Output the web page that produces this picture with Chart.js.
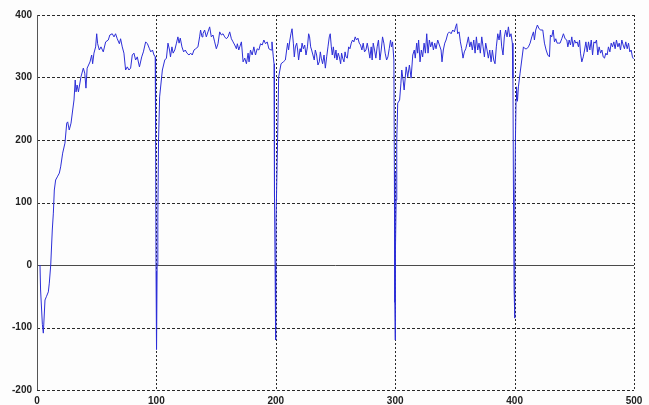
<!DOCTYPE html>
<html>
<head>
<meta charset="utf-8">
<script src="https://cdn.jsdelivr.net/npm/chart.js@4/dist/chart.umd.min.js"></script>
<style>
  html, body { margin: 0; padding: 0; background: #fdfdfd; }
  canvas { display: block; }
</style>
</head>
<body>
<canvas id="c" width="649" height="405"></canvas>
<script>
// Response trace, one array of [time, value] pairs per cycle.
const cycle1 = [
  [2.5,0],[3,-40],[4.5,-95],[5.3,-109],[6.7,-56],[8,-50],[9.5,-43],[10.3,-29],[11.5,0],[12.8,56],
  [13.7,83],[14.5,120],[15.6,136],[17,141],[18.7,147],[19.8,157],[21.5,179],[23.4,195],[24.9,227],[25.7,229],
  [27,216],[28.5,227],[29.9,248],[31,264],[32,296],[32.7,277],[33.6,288],[34.7,277],[36.8,301],[38.8,315],
  [40,307],[41,283],[42,315],[44.4,325],[45.8,336],[46.6,322],[47.7,339],[49.1,349],[50,370],[50.8,354],
  [52.2,344],[53.6,349],[55.5,341],[57.5,357],[59.7,360],[61,368],[63,370],[64.5,365],[65.8,370],[67.2,362],
  [69,354],[70,362],[71.4,349],[72.8,339],[74.2,312],[75.6,317],[77,312],[78.4,315],[79.8,336],[81.2,339],
  [82.6,328],[84,333],[85.8,317],[87.7,333],[89.1,341],[91,357],[92.5,354],[94.2,346],[95.3,341],[96.7,344],
  [98,336],[99,333],[99.3,221],[99.7,-10],[100,-90],[100.2,-135],[100.6,0],[101.2,77],[101.8,200]
];
const cycle2 = [
  [102.7,269],[105,312],[107,328],[108.4,331],[109.7,355],[111,344],[111.8,333],[113,349],[114,339],[115.4,344],
  [116.8,355],[118,365],[119,355],[120,363],[121.4,349],[122.8,341],[124.2,344],[125.6,339],[127.3,336],[128.7,339],
  [130,336],[131.5,344],[132.9,346],[134.8,349],[136.2,365],[137,376],[138.2,365],[139,370],[140.4,376],[141.8,365],
  [143.2,373],[144.6,381],[146,365],[147.4,368],[148.8,357],[150.2,346],[151.6,354],[153,373],[154.4,368],[155.8,370],
  [157.2,365],[158.6,362],[160,365],[161.4,373],[162.8,362],[164.2,357],[165.6,352],[167,346],[167.8,354],[169,344],
  [169.8,349],[171.2,357],[172.6,325],[174,331],[175.4,322],[176.8,339],[177.6,325],[178.8,344],[180.2,336],[181.6,349],
  [183,336],[184.4,346],[185.8,344],[187.2,354],[188.6,352],[190,360],[191.4,354],[192.8,357],[194.2,346],[196,344],
  [196.8,357],[197.9,333],[198.5,322],[198.9,109],[199.4,-1],[199.7,-98],[200,-120],[200.2,72],[201.6,211]
];
const cycle3 = [
  [202.4,301],[204.4,322],[206.3,325],[208,328],[209.1,344],[209.9,355],[210.7,344],[211.8,360],[212.7,370],[213.6,378],
  [214.7,355],[215.5,333],[216.4,349],[217.5,355],[218.3,344],[219.1,328],[220.3,346],[221.1,341],[222,355],[223.1,346],
  [224.2,352],[225.3,336],[226.5,349],[227.5,370],[228.3,365],[229.2,349],[230,344],[231.1,336],[232.2,328],[233.1,344],
  [234.2,336],[235.3,320],[236.4,325],[237.3,341],[238.1,331],[239.2,322],[240.4,336],[241.5,315],[242.6,333],[243.7,349],
  [244.8,365],[245.6,370],[246.5,349],[247.3,336],[248.2,349],[249.3,331],[250.4,344],[251.2,328],[252.3,339],[253.2,333],
  [254.3,322],[255.1,339],[256,331],[257.1,325],[258,341],[258.8,333],[259.9,331],[261,349],[262.1,346],[263.2,355],
  [264.3,360],[265.4,357],[266.5,365],[267.6,360],[268.8,363],[269.9,355],[271,352],[272.1,344],[273.2,355],[274.3,341],
  [275.5,344],[276.6,355],[277.7,344],[278.8,331],[279.9,349],[280.7,328],[281.6,355],[282.7,344],[283.8,331],[284.9,349],
  [286,360],[287.2,328],[288.3,344],[289.4,365],[290.5,355],[291.6,339],[292.8,328],[293.9,333],[295,346],[296.1,360],
  [296.9,349],[297.8,357],[298.9,328],[299.3,150],[299.7,-60],[300,-120],[300.2,24],[300.8,104],[301.3,200]
];
const cycle4 = [
  [302.1,259],[303.7,264],[304.8,291],[305.5,312],[306.6,296],[307.5,280],[309.2,317],[310.5,301],[311.9,320],[313.3,299],
  [314.7,336],[316,344],[316.8,331],[318,355],[318.8,339],[319.6,360],[320.8,325],[321.9,344],[323,333],[324.2,355],
  [325.3,339],[326.4,370],[327.5,339],[328.6,360],[329.7,349],[330.9,357],[332,344],[333.1,355],[334.2,346],[335.6,360],
  [337,352],[338.4,344],[339.2,325],[340.3,344],[341.5,355],[342.6,360],[344,370],[345.4,373],[346.8,370],[348.2,376],
  [349.6,373],[350.6,381],[351.5,386],[352.3,370],[353.5,373],[354.6,357],[355.7,346],[356.8,331],[357.9,341],[359.1,346],
  [360.2,355],[361.3,365],[362.4,349],[363.5,357],[364.6,344],[365.8,360],[366.9,339],[368,365],[369.1,344],[370.2,355],
  [371.3,339],[372.5,365],[373.6,349],[374.7,333],[375.8,355],[376.9,344],[378,331],[379.2,344],[380.3,325],[381.4,344],
  [382.5,328],[383.6,322],[384.7,349],[385.9,370],[387,360],[388.1,376],[389.2,349],[390.3,336],[391.4,365],[392.5,376],
  [393.7,365],[394.8,381],[395.9,365],[397,370],[398.1,355],[398.6,300],[399,136],[399.6,-40],[400,-85],[400.3,104],
  [400.7,200],[401.2,264]
];
const cycle5 = [
  [401.6,285],[402.4,262],[403.2,285],[404.6,307],[406,328],[407.4,349],[408.8,346],[410.2,346],[411.6,349],[413,355],
  [414.4,365],[415.8,373],[416.6,360],[417.7,376],[419.1,384],[420.5,378],[421.9,376],[423.6,376],[425,355],[426.4,344],
  [427.8,336],[429.2,333],[430,368],[431.1,365],[432.3,376],[433.4,357],[434.5,362],[435.6,355],[436.7,355],[438.1,355],
  [439.5,362],[440.9,370],[442.3,362],[443.7,360],[444.6,349],[445.7,360],[446.8,352],[447.9,365],[449,349],[450.2,360],
  [451.3,355],[452.4,357],[453.5,349],[454.4,360],[455.2,339],[456.3,325],[457.5,333],[458.6,344],[459.7,357],[460.8,341],
  [461.9,357],[463,344],[464.2,360],[465.3,336],[466.4,357],[467.5,355],[468.6,360],[469.7,336],[470.8,349],[472,339],
  [473.1,344],[474.2,333],[475.3,331],[476.4,339],[477.5,336],[478.6,349],[479.8,341],[480.9,355],[482,349],[483.1,357],
  [484.2,346],[485.3,360],[486.5,349],[487.6,355],[488.7,344],[489.8,360],[490.9,352],[492,346],[493.1,357],[494.3,346],
  [495.4,355],[496.5,341],[497.6,344],[498.7,333],[499.5,330]
];

// Axis ticks
const xTicks = [0, 100, 200, 300, 400, 500];
const yTicks = [-200, -100, 0, 100, 200, 300, 400];

const trace = [cycle1, cycle2, cycle3, cycle4, cycle5]
  .flat()
  .map(([x, y]) => ({ x, y }));

// Dashed grid, solid zero line and solid left axis, drawn from the scales.
const gridPlugin = {
  id: 'dashGrid',
  beforeDraw(chart) {
    const ctx = chart.ctx;
    ctx.save();
    ctx.fillStyle = '#fdfdfd';
    ctx.fillRect(0, 0, chart.width, chart.height);
    ctx.restore();
  },
  beforeDatasetsDraw(chart) {
    const { ctx, chartArea: a, scales: { x, y } } = chart;
    ctx.save();
    ctx.lineWidth = 1;
    // horizontal lines
    yTicks.forEach(v => {
      const py = Math.round(y.getPixelForValue(v)) + 0.5;
      ctx.beginPath();
      if (v === 0) {
        ctx.setLineDash([]);
        ctx.strokeStyle = '#4a4a4a';
      } else {
        ctx.setLineDash([3, 2]);
        ctx.strokeStyle = '#2a2a2a';
      }
      ctx.moveTo(a.left, py);
      ctx.lineTo(a.right, py);
      ctx.stroke();
    });
    // vertical lines
    xTicks.forEach(v => {
      const px = Math.round(x.getPixelForValue(v)) + 0.5;
      ctx.beginPath();
      if (v === 0) {
        ctx.setLineDash([]);
        ctx.strokeStyle = '#555555';
      } else {
        ctx.setLineDash([2, 2]);
        ctx.strokeStyle = '#2a2a2a';
      }
      ctx.moveTo(px, a.top);
      ctx.lineTo(px, a.bottom);
      ctx.stroke();
    });
    ctx.restore();
  }
};

const tickFont = { family: "'Liberation Sans', Arial, sans-serif", size: 10, weight: 'bold' };

new Chart(document.getElementById('c'), {
  type: 'line',
  data: {
    datasets: [{
      data: trace,
      borderColor: '#2d2fd8',
      borderWidth: 1,
      pointRadius: 0,
      tension: 0,
      fill: false
    }]
  },
  options: {
    responsive: false,
    devicePixelRatio: 1,
    animation: false,
    parsing: true,
    layout: { padding: { left: 0, right: 15, top: 15, bottom: 0 } },
    plugins: { legend: { display: false }, tooltip: { enabled: false } },
    scales: {
      x: {
        type: 'linear',
        min: 0,
        max: 500,
        afterBuildTicks: s => { s.ticks = xTicks.map(v => ({ value: v })); },
        afterFit: s => { s.height = 15; },
        grid: { display: false, drawTicks: false },
        border: { display: false },
        ticks: { font: tickFont, color: '#222', padding: 5, maxRotation: 0 }
      },
      y: {
        type: 'linear',
        min: -200,
        max: 400,
        afterBuildTicks: s => { s.ticks = yTicks.map(v => ({ value: v })); },
        afterFit: s => { s.width = 37; },
        grid: { display: false, drawTicks: false },
        border: { display: false },
        ticks: { font: tickFont, color: '#222', padding: 5 }
      }
    }
  },
  plugins: [gridPlugin]
});
</script>
</body>
</html>
